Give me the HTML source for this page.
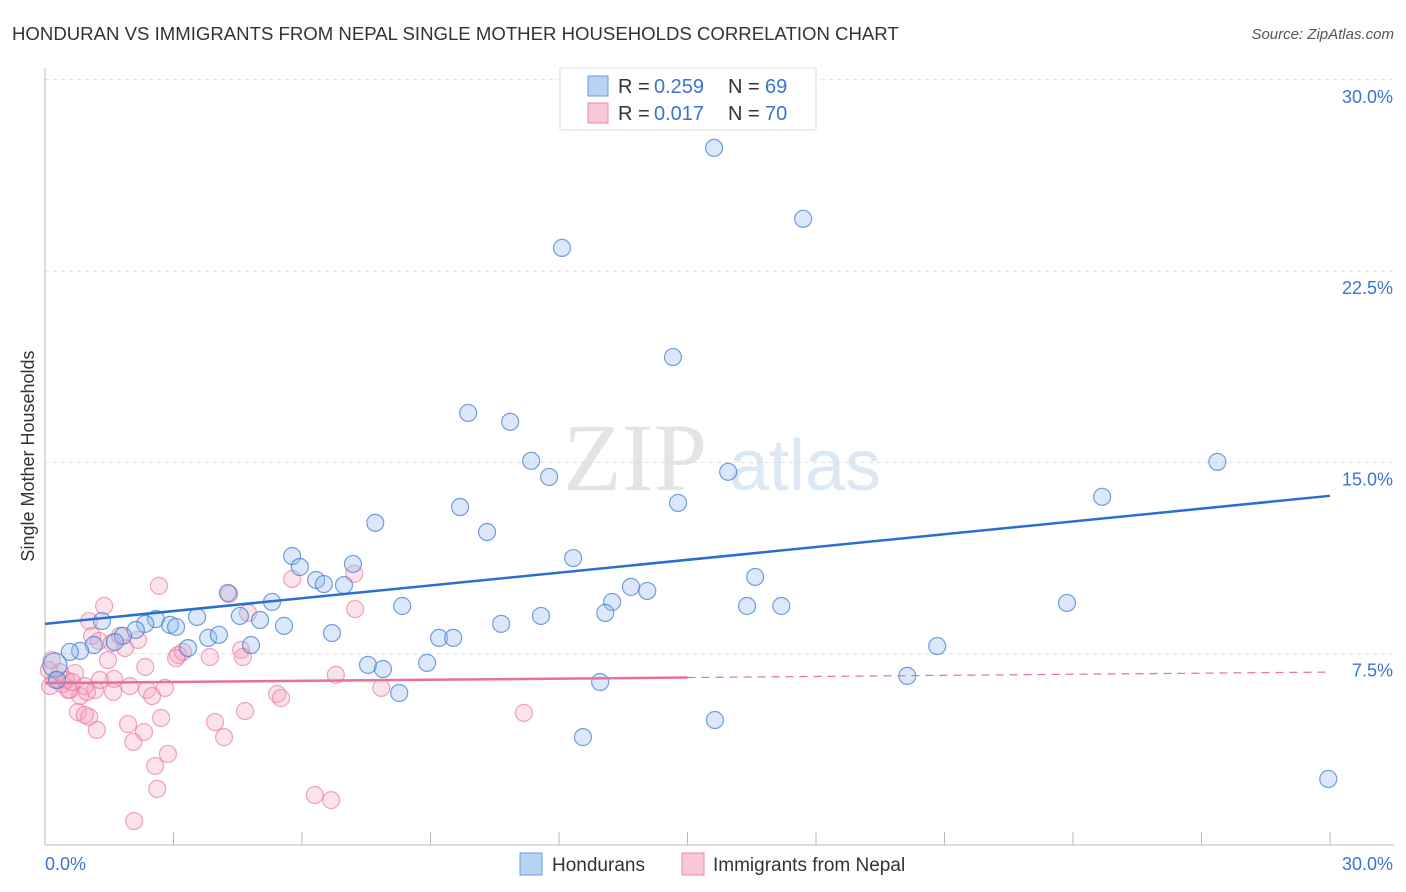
<!DOCTYPE html>
<html><head><meta charset="utf-8"><style>
body{margin:0;background:#fff;font-family:"Liberation Sans",sans-serif;}
svg{display:block}
</style></head><body>
<svg id="chart" width="1406" height="892" xmlns="http://www.w3.org/2000/svg">
<text x="12" y="40" font-size="18.6" fill="#333">HONDURAN VS IMMIGRANTS FROM NEPAL SINGLE MOTHER HOUSEHOLDS CORRELATION CHART</text>
<text x="1394" y="39" font-size="15" fill="#555" font-style="italic" text-anchor="end">Source: ZipAtlas.com</text>
<text x="34" y="456" font-size="18" fill="#333" text-anchor="middle" transform="rotate(-90 34 456)">Single Mother Households</text>
<g><text x="635" y="490" font-size="96" fill="#e4e4e4" text-anchor="middle" font-family="Liberation Serif,serif">ZIP</text><text x="805" y="490" font-size="72" fill="#dce8f5" text-anchor="middle">atlas</text></g>
<g id="grid"></g><g id="axes"></g><g id="pts"></g><g id="lines"></g>
<g>
<rect x="560" y="68" width="256" height="62" fill="#fff" stroke="#ddd"/>
<rect x="588" y="76" width="20" height="20" fill="#b7d3f3" stroke="#6a9ee0"/>
<text x="618" y="93" font-size="20" fill="#333">R =</text><text x="654" y="93" font-size="20" fill="#3a74d0">0.259</text>
<text x="728" y="93" font-size="20" fill="#333">N =</text><text x="765" y="93" font-size="20" fill="#3a74d0">69</text>
<rect x="588" y="103" width="20" height="20" fill="#f8c6d5" stroke="#e88aa8"/>
<text x="618" y="120" font-size="20" fill="#333">R =</text><text x="654" y="120" font-size="20" fill="#3a74d0">0.017</text>
<text x="728" y="120" font-size="20" fill="#333">N =</text><text x="765" y="120" font-size="20" fill="#3a74d0">70</text>
</g>
<g>
<rect x="520" y="853" width="22" height="22" fill="#b7d3f3" stroke="#6a9ee0"/>
<text x="552" y="871" font-size="19" fill="#333">Hondurans</text>
<rect x="682" y="853" width="22" height="22" fill="#f8c6d5" stroke="#e88aa8"/>
<text x="713" y="871" font-size="19" fill="#333">Immigrants from Nepal</text>
</g>
</svg>
<script>
const yTicks=[7.5,15,22.5,30];
const yTickLabels=["7.5%","15.0%","22.5%","30.0%"];
const xTicks=[0,3,6,9,12,15,18,21,24,27,30];
const blueX=[15.62,17.70,12.07,14.66,9.88,10.86,11.35,11.77,15.95,27.37,24.68,9.69,14.78,7.71,10.32,12.33,5.77,5.95,6.33,6.51,6.98,7.19,16.58,13.68,14.06,13.24,13.08,16.39,17.19,23.86,8.34,11.58,10.65,9.20,9.53,20.83,6.70,4.27,5.30,4.55,5.02,5.58,3.55,2.59,2.92,3.06,2.34,2.12,1.82,1.33,1.14,1.63,3.81,4.06,4.81,3.34,0.82,0.58,0.23,7.54,7.89,8.92,8.27,12.96,20.13,15.64,12.56,29.96,0.28];
const blueY=[27.33,24.55,23.41,19.13,16.94,16.59,15.06,14.43,14.63,15.02,13.65,13.25,13.41,12.63,12.27,11.25,11.33,10.90,10.39,10.23,10.19,11.02,10.51,10.12,9.96,9.53,9.10,9.37,9.37,9.49,9.37,8.98,8.67,8.12,8.12,7.80,8.31,9.88,9.53,8.98,8.82,8.59,8.94,8.86,8.63,8.55,8.67,8.43,8.20,8.78,7.84,7.96,8.12,8.24,7.84,7.72,7.61,7.57,7.06,7.06,6.90,7.14,5.96,6.39,6.63,4.90,4.23,2.59,6.47];
const pinkX=[2.66,1.38,1.03,1.10,1.26,1.56,1.87,2.17,1.75,1.47,2.34,1.61,1.98,2.38,2.50,1.59,1.17,0.82,0.58,0.40,0.23,0.12,0.35,0.70,0.93,0.98,0.54,0.77,1.03,0.93,1.21,1.94,2.31,2.06,2.71,2.57,2.87,2.62,2.08,4.30,4.74,3.11,3.22,3.06,3.85,4.58,4.62,3.97,4.18,4.67,5.42,5.51,5.77,7.22,7.24,6.79,7.85,11.18,6.30,6.68,0.09,0.16,0.49,0.63,1.28,2.80];
const pinkY=[10.16,9.37,8.78,8.20,8.00,7.92,7.72,8.04,8.20,7.25,6.98,6.51,6.23,6.08,5.84,6.00,6.08,5.84,6.08,6.31,6.47,6.23,6.78,6.74,6.23,6.00,6.08,5.21,5.02,5.10,4.51,4.74,4.43,4.04,4.98,3.10,3.57,2.20,0.94,9.84,9.10,7.45,7.57,7.33,7.37,7.65,7.37,4.82,4.23,5.25,5.92,5.76,10.43,10.63,9.25,6.67,6.16,5.18,1.96,1.76,6.86,7.25,6.47,6.39,6.47,6.16];
const blueTrend=[8.67,13.69];
const pinkTrend=[6.35,6.78];
const pinkSolidEnd=15;
const NS="http://www.w3.org/2000/svg";
const X=v=>45+v/30*1285, Y=v=>845-v/7.5*191.3;
function mk(t,a,p){const e=document.createElementNS(NS,t);for(const k in a)e.setAttribute(k,a[k]);document.getElementById(p).appendChild(e);return e;}
yTicks.forEach((t,i)=>{
 const g=mk('line',{x1:45,x2:1394,y1:Y(t),y2:Y(t),stroke:'#ddd','stroke-dasharray':'4,4'},'grid');
 
 
 const l=mk('text',{x:1393,y:Y(t)+23,'font-size':18,fill:'#3a74d0','text-anchor':'end'},'grid');
 l.textContent=yTickLabels[i];
 
 
});
const ax=mk('line',{x1:45,x2:45,y1:68,y2:845,stroke:'#bbb'},'axes');


const bx=mk('line',{x1:45,x2:1394,y1:845,y2:845,stroke:'#bbb'},'axes');


xTicks.forEach(t=>{
 const k=mk('line',{x1:X(t),x2:X(t),y1:832,y2:845,stroke:'#bbb'},'axes');
 
 
});
const x0=mk('text',{x:45,y:870,'font-size':18,fill:'#3a74d0'},'axes');x0.textContent='0.0%';


const x1=mk('text',{x:1393,y:870,'font-size':18,fill:'#3a74d0','text-anchor':'end'},'axes');x1.textContent='30.0%';


pinkX.forEach((v,i)=>{
 const c=mk('circle',{cx:X(v),cy:Y(pinkY[i]),r:8.5,fill:'rgba(244,160,186,0.3)',stroke:'rgba(230,120,155,0.65)','stroke-width':1.2},'pts');
 
 
});
blueX.forEach((v,i)=>{
 const c=mk('circle',{cx:X(v),cy:Y(blueY[i]),r:(i==58?12:8.5),fill:'rgba(150,190,238,0.35)',stroke:'rgba(60,120,210,0.7)','stroke-width':1.2},'pts');
 
 
});
const bl=mk('line',{x1:X(0),y1:Y(blueTrend[0]),x2:X(30),y2:Y(blueTrend[1]),stroke:'#2a6fd0','stroke-width':2.5},'lines');


const pm=pinkTrend[0]+(pinkTrend[1]-pinkTrend[0])*pinkSolidEnd/30;
const pl=mk('line',{x1:X(0),y1:Y(pinkTrend[0]),x2:X(pinkSolidEnd),y2:Y(pm),stroke:'#e8709a','stroke-width':2.5},'lines');


const pd=mk('line',{x1:X(pinkSolidEnd),y1:Y(pm),x2:X(30),y2:Y(pinkTrend[1]),stroke:'#e8709a','stroke-width':1.2,'stroke-dasharray':'8,6'},'lines');


</script>
</body></html>
